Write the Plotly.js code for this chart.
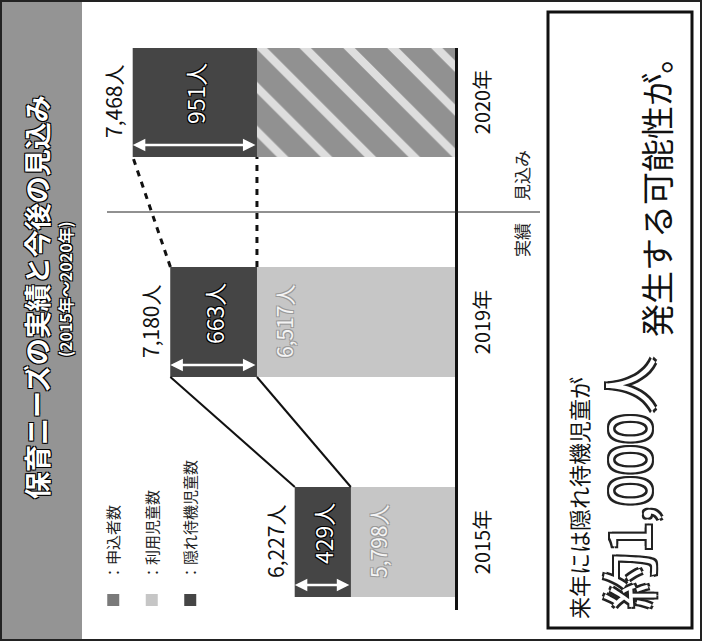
<!DOCTYPE html>
<html><head><meta charset="utf-8">
<script src="https://cdn.plot.ly/plotly-3.0.1.min.js"></script>
<style>
html,body{margin:0;padding:0;background:#fff;overflow:hidden;width:702px;height:641px;}
#wrap{position:absolute;left:0;top:0;width:641px;height:702px;transform-origin:0 0;transform:translateY(641px) rotate(-90deg);}
</style></head>
<body><div id="wrap"><div id="chart" style="width:641px;height:702px;"></div></div>
<script>
// ---- data ----
const years = ['2015年', '2019年', '2020年'];
const applicants = [6227, 7180, 7468];      // 申込者数
const users = [5798, 6517, 6517];           // 利用児童数
const hidden = [429, 663, 951];             // 隠れ待機児童数
const projected = [false, false, true];     // 見込み
const seriesNames = ['申込者数', '利用児童数', '隠れ待機児童数'];
const titleText = '保育ニーズの実績と今後の見込み';
const subtitleText = '(2015年～2020年)';
const noteLine1 = '来年には隠れ待機児童が';
const noteBig = '約1,000人';
const noteLine2 = '発生する可能性が。';
const periodLabels = ['実績', '見込み'];

// ---- geometry (unrotated frame, then whole page rotated) ----
const W = 641, H = 702;
const L = 31, R = 593, T = 100, B = 455;
const c0 = 99, step = 220;
const yMin = 5000, perPx = 7.66;
const yMax = yMin + (B - T) * perPx;
const px = u => (u - L) / (R - L);
const py = v => (B - v) / (B - T);
const idx = years.map((_, i) => i);
const hw = 0.25;
const FONT = '"Noto Sans CJK JP", "Noto Sans", sans-serif';
const outline = c => `-1px -1px 0 ${c}, 1px -1px 0 ${c}, -1px 1px 0 ${c}, 1px 1px 0 ${c}`;
const fmt = n => n.toLocaleString('en-US');

const traces = [
  {type: 'bar', name: seriesNames[0], x: idx, y: applicants, base: 0, width: 0.5,
   marker: {color: '#7a7a7a', line: {width: 0}}, legendgroup: 'a'},
  {type: 'bar', name: seriesNames[1], x: idx, y: users, base: 0, width: 0.5,
   marker: {color: projected.map(p => p ? '#dedede' : '#c6c6c6'), line: {width: 0},
            pattern: {shape: projected.map(p => p ? '/' : ''), fgcolor: '#363636', bgcolor: '#dedede',
                      size: 31, solidity: 0.74, fillmode: 'overlay'}}, legendgroup: 'b'},
  {type: 'bar', name: seriesNames[2], x: idx, y: hidden, base: users, width: 0.5,
   marker: {color: '#454545', line: {width: 0}}, legendgroup: 'c'}
];
// connectors between bars
for (let i = 0; i < idx.length - 1; i++) {
  const dash = projected[i + 1] ? '6px,6px' : 'solid';
  [applicants, users].forEach(arr => {
    traces.push({type: 'scatter', mode: 'lines', x: [idx[i] + hw, idx[i + 1] - hw], y: [arr[i], arr[i + 1]],
      line: {color: '#111', width: projected[i + 1] ? 3 : 2, dash: dash}, showlegend: false});
  });
}

const P = {xref: 'paper', yref: 'paper', showarrow: false, xanchor: 'center', yanchor: 'middle'};
const ann = [];
ann.push(Object.assign({}, P, {x: px(344), y: py(36), text: '<b>' + titleText + '</b>',
  font: {family: FONT, size: 27, color: '#fff', shadow: outline('#000')}}));
ann.push(Object.assign({}, P, {x: px(352), y: py(65), text: '<b>' + subtitleText + '</b>',
  font: {family: FONT, size: 16, color: '#fff', shadow: outline('#000')}}));
idx.forEach(i => {
  ann.push({x: i, y: applicants[i], yanchor: 'bottom', yshift: 3, text: fmt(applicants[i]) + '人', showarrow: false,
    font: {family: FONT, size: 21, color: '#111'}});
  // hidden segment label + double arrow
  ann.push({x: i, y: users[i] + hidden[i] / 2, xshift: 8, text: fmt(hidden[i]) + '人', showarrow: false,
    font: {family: FONT, size: 23, color: '#fff', shadow: outline('#000')}});
  ann.push({x: i, y: applicants[i], ax: i, ay: users[i], axref: 'x', ayref: 'y', xshift: -43, text: '',
    showarrow: true, arrowside: 'end+start', arrowhead: 2, startarrowhead: 2, arrowsize: 1, startarrowsize: 1,
    arrowwidth: 2.5, arrowcolor: '#fff'});
  if (!projected[i]) {
    ann.push({x: i, y: users[i], yanchor: 'top', yshift: -10, text: fmt(users[i]) + '人', showarrow: false,
      font: {family: FONT, size: 21, color: '#f4f4f4', shadow: outline('#9a9a9a')}});
  }
});
// period arrow + labels
ann.push({x: (611 - c0) / step, y: py(502), xref: 'x', yref: 'paper', ax: (21 - c0) / step, ay: 0,
  axref: 'x', ayref: 'pixel', text: '', showarrow: true, arrowside: 'end+start', arrowhead: 2, startarrowhead: 2,
  arrowsize: 1, startarrowsize: 1, arrowwidth: 1.2, arrowcolor: '#222'});
ann.push({x: 1.5, y: py(521), xref: 'x', yref: 'paper', xanchor: 'right', yanchor: 'middle', xshift: -9,
  text: periodLabels[0], showarrow: false, font: {family: FONT, size: 17, color: '#222'}});
ann.push({x: 1.5, y: py(521), xref: 'x', yref: 'paper', xanchor: 'left', yanchor: 'middle', xshift: 9,
  text: periodLabels[1], showarrow: false, font: {family: FONT, size: 17, color: '#222'}});
// note box texts
ann.push(Object.assign({}, P, {x: px(20), xanchor: 'left', y: py(578), text: noteLine1,
  font: {family: FONT, size: 22, color: '#111'}}));
ann.push(Object.assign({}, P, {x: px(30), xanchor: 'left', y: py(626), text: noteBig,
  font: {family: FONT, size: 56, color: '#fff', shadow: '-2px -2px 0 #222, 2px -2px 0 #222, -2px 2px 0 #222, 2px 2px 0 #222'}}));
ann.push(Object.assign({}, P, {x: px(302), xanchor: 'left', y: py(656), text: noteLine2,
  font: {family: FONT, size: 33, color: '#111'}}));

const shapes = [
  {type: 'rect', xref: 'paper', yref: 'paper', x0: px(1), x1: px(640), y0: py(1), y1: py(82),
   fillcolor: '#949494', line: {width: 0}, layer: 'below'},
  {type: 'rect', xref: 'paper', yref: 'paper', x0: px(1), x1: px(640), y0: py(1), y1: py(701),
   line: {color: '#222', width: 2}},
  {type: 'line', xref: 'x', yref: 'paper', x0: 1.5, x1: 1.5, y0: py(107), y1: py(540),
   line: {color: '#222', width: 1}},
  {type: 'rect', xref: 'paper', yref: 'paper', x0: px(13), x1: px(629), y0: py(548), y1: py(692),
   line: {color: '#111', width: 3}, fillcolor: 'rgba(0,0,0,0)'}
];

const layout = {
  width: W, height: H, margin: {l: L, r: W - R, t: T, b: H - B},
  paper_bgcolor: '#fff', plot_bgcolor: '#fff', barmode: 'overlay', hovermode: false,
  font: {family: FONT, color: '#111'},
  xaxis: {range: [(L - c0) / step, (R - c0) / step], tickvals: idx, ticktext: years, showgrid: false, zeroline: false,
    showline: true, linecolor: '#111', linewidth: 3, ticks: '', ticklabelstandoff: 8,
    tickfont: {family: FONT, size: 20, color: '#111'}},
  yaxis: {range: [yMin, yMax], visible: false, showgrid: false, zeroline: false},
  showlegend: true,
  legend: {x: px(21), xanchor: 'left', y: py(97), yanchor: 'top', bgcolor: 'rgba(0,0,0,0)', tracegroupgap: 16,
    itemwidth: 30, font: {family: FONT, size: 15, color: '#222'}, traceorder: 'grouped'},
  annotations: ann, shapes: shapes
};
traces.slice(0, 3).forEach(t => { t.name = '：' + t.name; });
Plotly.newPlot('chart', traces, layout, {staticPlot: true, displayModeBar: false});
</script></body></html>
